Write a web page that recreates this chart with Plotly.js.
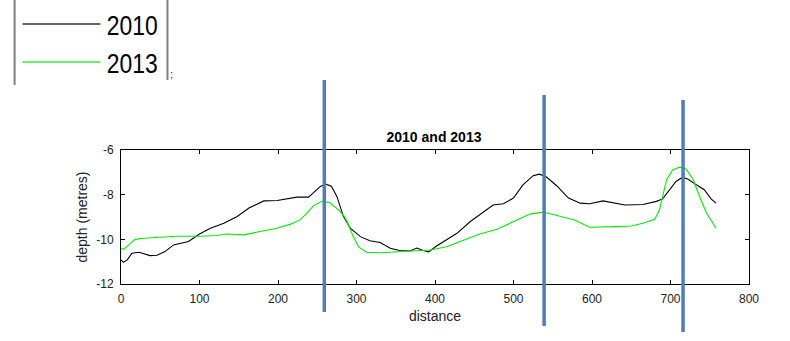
<!DOCTYPE html>
<html>
<head>
<meta charset="utf-8">
<script src="https://cdn.plot.ly/plotly-3.0.1.min.js"></script>
<style>html,body{margin:0;padding:0;background:#fff;}#chart{width:790px;height:341px;}</style>
</head>
<body>
<div id="chart"></div>
<script>
// Series names
const seriesNames = ["2010", "2013"];

// 2010 profile
const dist2010 = [0,3,8,14,23,29,37,46,56,67,76,86,100,114,131,148,163,172,182,199,211,224,239,245,254,261,268,275,283,292,305,317,330,343,355,368,377,385,392,402,415,428,445,462,474,487,500,512,525,533,542,555,570,585,597,614,627,642,665,682,690,699,707,715,722,733,743,752,758];
const depth2010 = [-10.92,-11.03,-10.92,-10.62,-10.58,-10.65,-10.73,-10.71,-10.55,-10.25,-10.18,-10.10,-9.76,-9.50,-9.28,-8.98,-8.60,-8.46,-8.28,-8.26,-8.20,-8.11,-8.11,-7.93,-7.63,-7.53,-7.62,-8.08,-8.95,-9.50,-9.88,-10.06,-10.14,-10.40,-10.50,-10.52,-10.39,-10.50,-10.56,-10.30,-10.03,-9.73,-9.20,-8.76,-8.46,-8.41,-8.15,-7.56,-7.15,-7.08,-7.21,-7.60,-8.15,-8.38,-8.41,-8.28,-8.35,-8.46,-8.44,-8.30,-8.19,-7.78,-7.41,-7.23,-7.30,-7.56,-7.78,-8.20,-8.38];

// 2013 profile
const dist2013 = [0,3,10,18,29,50,71,101,122,135,156,177,199,216,228,237,245,256,266,277,284,288,296,303,313,330,351,373,394,415,436,457,479,500,521,538,559,578,597,614,631,650,665,680,686,691,695,703,712,720,729,737,746,758];
const depth2013 = [-10.40,-10.45,-10.25,-10.00,-9.95,-9.91,-9.86,-9.86,-9.83,-9.76,-9.80,-9.65,-9.50,-9.32,-9.13,-8.83,-8.50,-8.30,-8.35,-8.68,-8.95,-9.20,-9.88,-10.35,-10.58,-10.60,-10.57,-10.52,-10.48,-10.33,-10.06,-9.76,-9.55,-9.20,-8.87,-8.78,-8.95,-9.13,-9.46,-9.46,-9.43,-9.40,-9.28,-9.10,-8.68,-7.93,-7.33,-6.88,-6.77,-6.85,-7.33,-8.08,-8.83,-9.50];

// Marked distances (blue vertical bars)
const markerDist = [259, 539, 716];

// Tick values
const xTicks = [0,100,200,300,400,500,600,700,800];
const yTicks = [-12,-10,-8,-6];

// plot area in pixels
const PL = 120.5, PR = 749, PT = 150, PB = 284;
const W = 790, H = 341;
const px2x = p => (p - PL) / (PR - PL);
const py2y = p => (PB - p) / (PB - PT);

const colors = ["#000000", "#00ee00"];
const legendColors = ["#333333", "#33ee33"];

const traces = [
  {x: dist2010, y: depth2010, name: seriesNames[0], type: "scatter", mode: "lines",
   line: {color: colors[0], width: 1.1}},
  {x: dist2013, y: depth2013, name: seriesNames[1], type: "scatter", mode: "lines",
   line: {color: colors[1], width: 1.1}}
];

const barExtents = [[80, 312], [95, 326], [100, 332]];
const shapes = markerDist.map((d, i) => ({
  type: "line", xref: "x", yref: "paper",
  x0: d, x1: d, y0: py2y(barExtents[i][1]), y1: py2y(barExtents[i][0]),
  line: {color: "#4f7dbb", width: 3.5}
}));

// legend box (manual)
shapes.push({type: "line", xref: "paper", yref: "paper", x0: px2x(14), x1: px2x(14), y0: py2y(85), y1: py2y(-2), line: {color: "#7f7f7f", width: 2}});
shapes.push({type: "line", xref: "paper", yref: "paper", x0: px2x(167), x1: px2x(167), y0: py2y(80), y1: py2y(-2), line: {color: "#7f7f7f", width: 2}});
const legY = [24, 62];
const annotations = [];
seriesNames.forEach((n, i) => {
  shapes.push({type: "line", xref: "paper", yref: "paper", x0: px2x(22), x1: px2x(100), y0: py2y(legY[i]), y1: py2y(legY[i]), line: {color: legendColors[i], width: 1.5}});
  annotations.push({xref: "paper", yref: "paper", x: px2x(132), y: py2y(legY[i] + 1.5), xanchor: "center", yanchor: "middle",
    text: n, showarrow: false, font: {family: "Liberation Sans, Arial", size: 28, color: "#000"}});
});
annotations.push({xref: "paper", yref: "paper", x: px2x(171), y: py2y(74), xanchor: "center", yanchor: "middle",
  text: ";", showarrow: false, font: {family: "Liberation Sans, Arial", size: 11, color: "#333"}});

const axisFont = {family: "Liberation Sans, Arial, sans-serif", size: 12, color: "#222"};
const layout = {
  width: W, height: H,
  margin: {l: PL, r: W - PR, t: PT, b: H - PB, pad: 0},
  paper_bgcolor: "#ffffff", plot_bgcolor: "#ffffff",
  showlegend: false,
  font: axisFont,
  title: {text: "<b>2010 and 2013</b>", x: 434 / W, xanchor: "center",
          y: 1 - 137 / H, yanchor: "middle", font: {family: "Liberation Sans, Arial", size: 14, color: "#000"}},
  xaxis: {range: [0, 800], tickvals: xTicks, ticktext: xTicks.map(String),
          showgrid: false, zeroline: false, showline: true, linecolor: "#000", linewidth: 1,
          mirror: "ticks", ticks: "inside", ticklen: 4, tickcolor: "#000",
          ticklabelstandoff: 4,
          tickfont: axisFont,
          title: {text: "distance", font: {family: "Liberation Sans, Arial", size: 14, color: "#222"}, standoff: 5}},
  yaxis: {range: [-12, -6], tickvals: yTicks, ticktext: yTicks.map(String),
          showgrid: false, zeroline: false, showline: true, linecolor: "#000", linewidth: 1,
          mirror: "ticks", ticks: "inside", ticklen: 4, tickcolor: "#000",
          ticklabelstandoff: 4,
          tickfont: axisFont,
          title: {text: "depth (metres)", font: {family: "Liberation Sans, Arial", size: 14, color: "#222"}, standoff: 5}},
  shapes: shapes,
  annotations: annotations
};

Plotly.newPlot("chart", traces, layout, {staticPlot: true, displayModeBar: false}).then(gd => {
  // condense the legend labels to match the narrow face of the reference
  [0, 1].forEach(i => {
    const t = gd.querySelector('.annotation[data-index="' + i + '"] text.annotation-text');
    if (t) {
      t.setAttribute("textLength", "51");
      t.setAttribute("lengthAdjust", "spacingAndGlyphs");
    }
  });
});
</script>
</body>
</html>
